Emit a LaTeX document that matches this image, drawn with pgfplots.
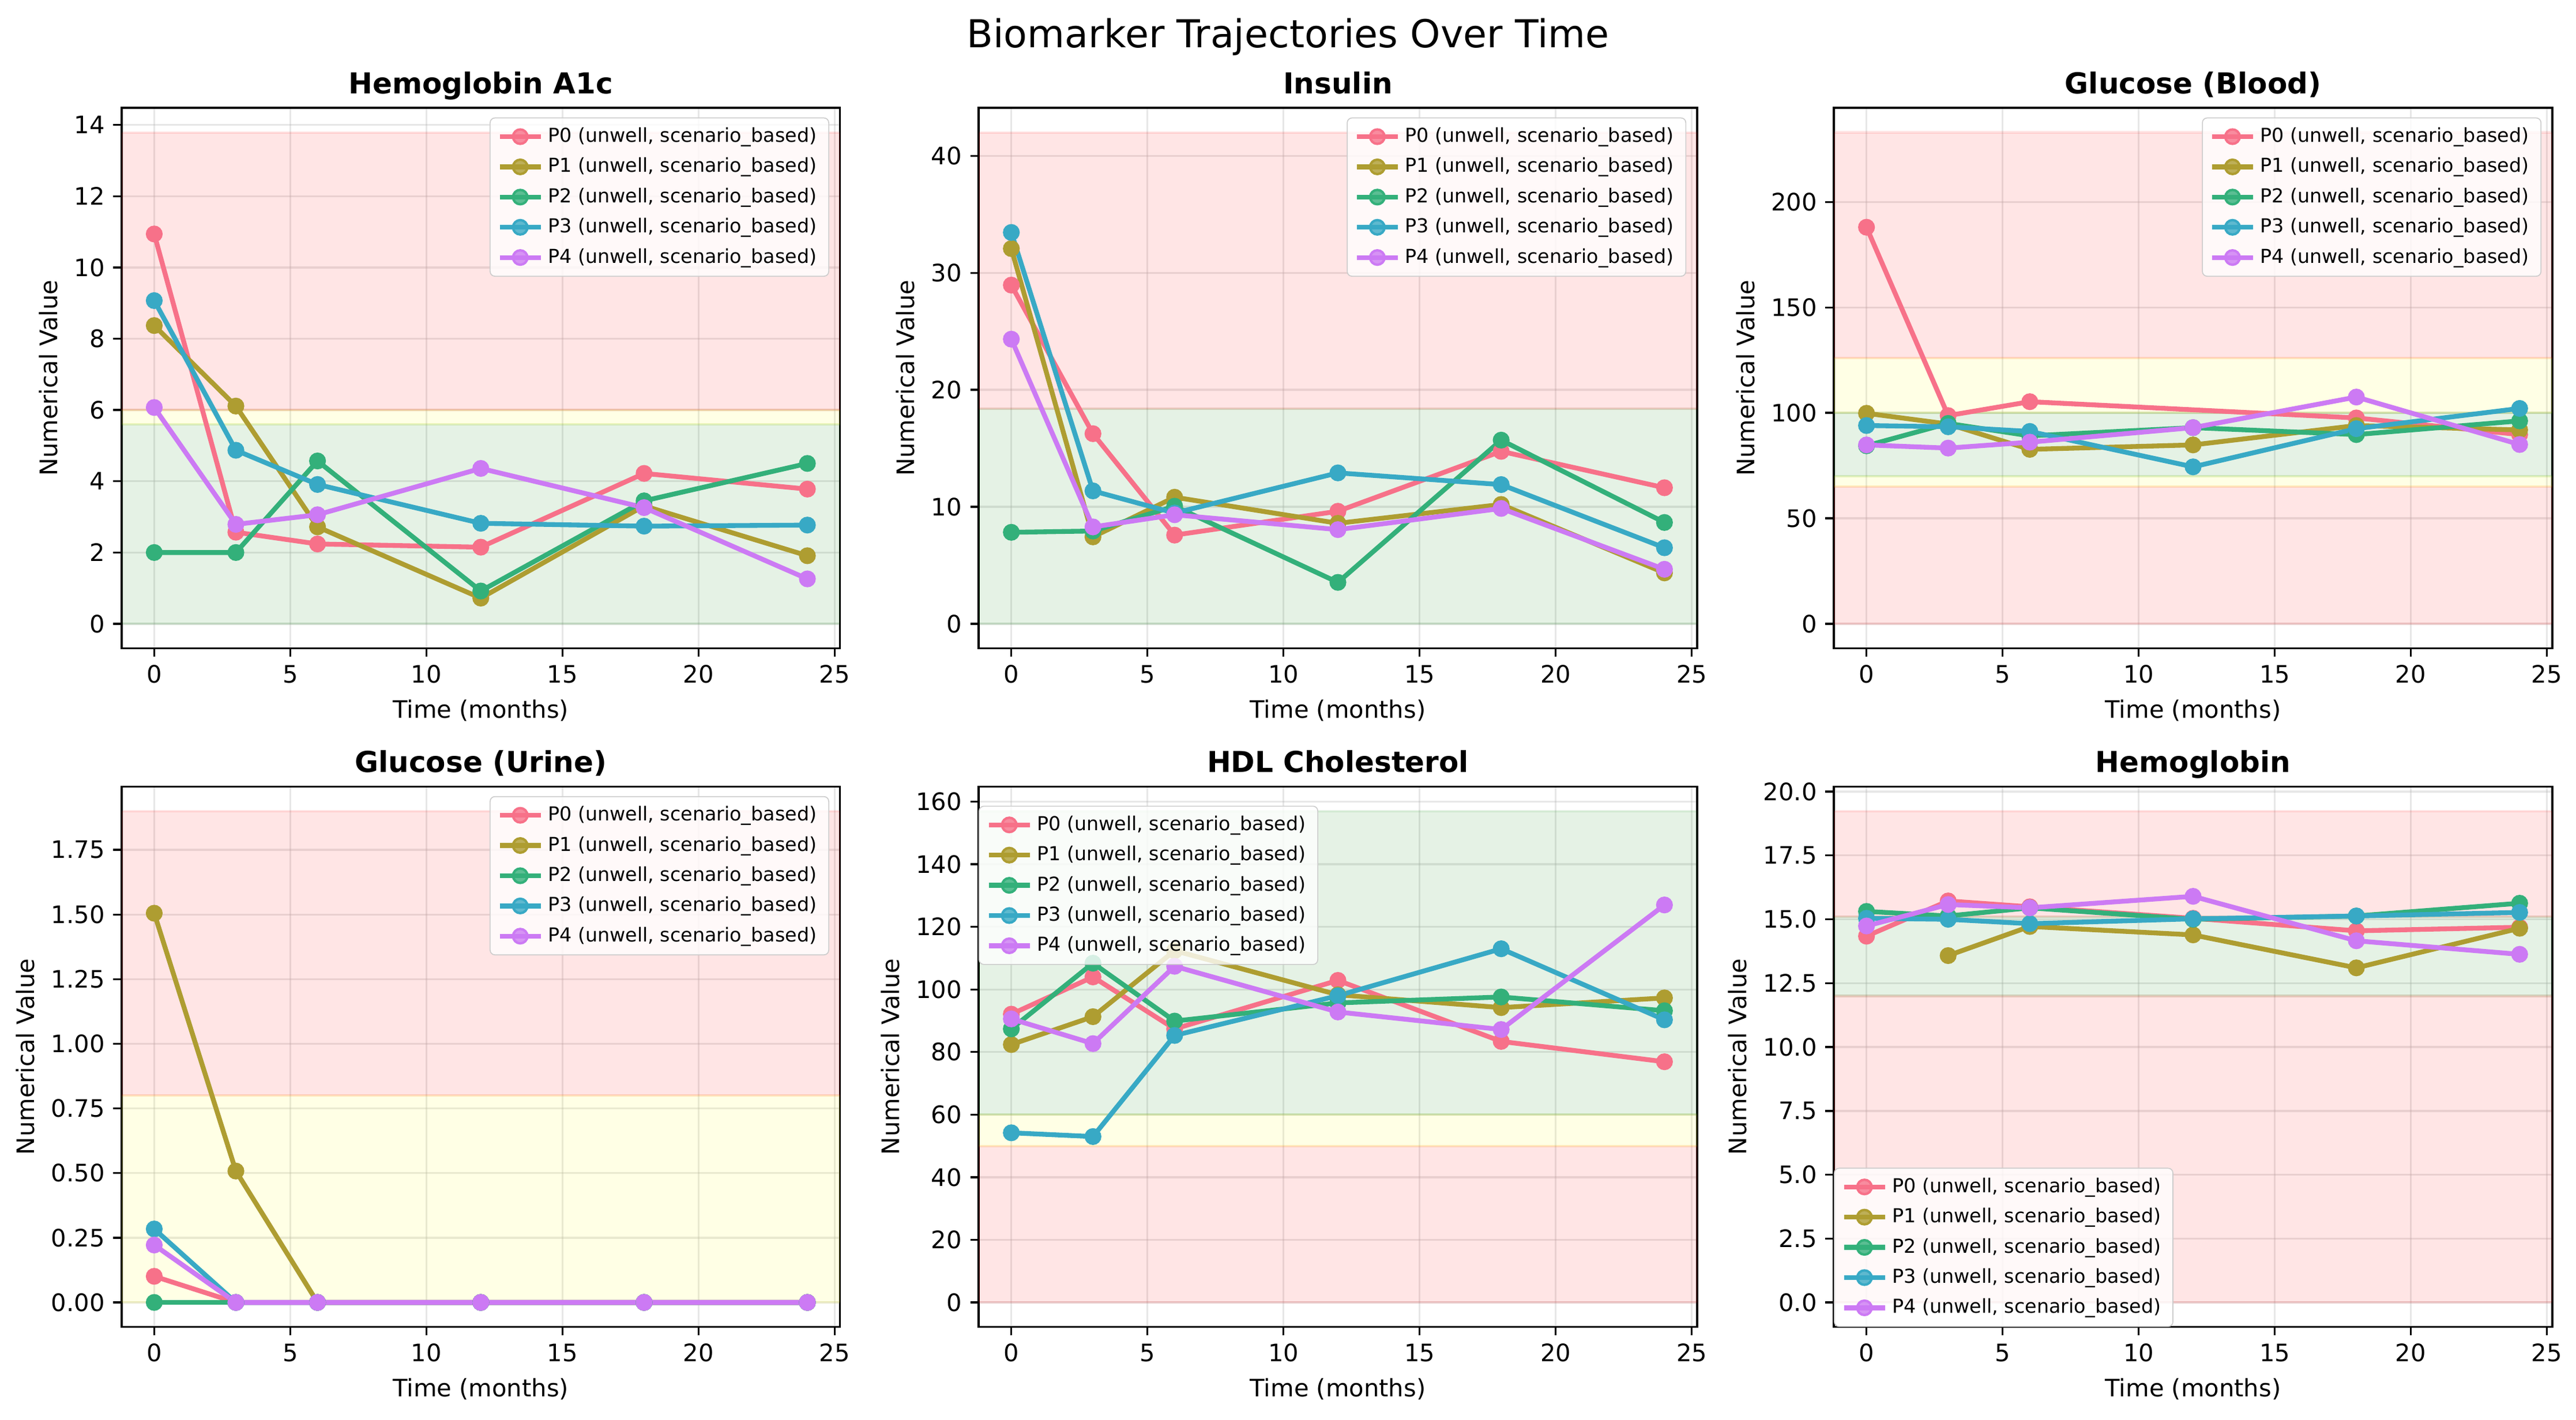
\documentclass[border=0pt]{standalone}
\usepackage{fontspec}
\setmainfont{DejaVu Sans}
\usepackage{pgfplots}
\pgfplotsset{compat=1.18}

\definecolor{cP0}{HTML}{F77189}
\definecolor{cP1}{HTML}{AE9D31}
\definecolor{cP2}{HTML}{33B07A}
\definecolor{cP3}{HTML}{38A9C5}
\definecolor{cP4}{HTML}{CC7AF4}
\definecolor{bred}{HTML}{FF0000}
\definecolor{bgreen}{HTML}{008000}
\definecolor{byellow}{HTML}{FFFF00}

\pgfplotsset{
  bm/.style={
    scale only axis, width=299pt, height=225pt,
    anchor=north west,
    xmin=-1.2, xmax=25.2,
    xtick={0,5,...,25},
    grid=major,
    grid style={draw=black!31, opacity=0.3, line width=0.8pt},
    axis line style={line width=0.8pt},
    tick style={black, line width=0.8pt},
    major tick length=3.5pt,
    tick align=outside, xtick pos=left, ytick pos=left,
    tick label style={font=\fontsize{10}{12}\selectfont},
    label style={font=\fontsize{10}{12}\selectfont},
    title style={font=\bfseries\fontsize{12}{14.4}\selectfont, anchor=base},
    xlabel={Time (months)}, ylabel={Numerical Value},
    /pgf/number format/assume math mode=true,
    scaled y ticks=false,
    legend cell align=left,
    legend style={font=\fontsize{8}{9.6}\selectfont, draw=black!20, fill=white,
      fill opacity=0.8, text opacity=1, rounded corners=2pt,
      at={(1,1)}, anchor=north east, xshift=-4.5pt, yshift=-4pt, row sep=1pt},
  },
  pt/.style={color=#1, line width=2pt, mark=*, mark size=3pt, mark options={line width=1pt}},
  band/.style={fill=#1, draw=#1, opacity=0.1, line width=1pt, forget plot, mark=none},
}

\newcommand{\leg}{\legend{{P0 (unwell, scenario\_based)},{P1 (unwell, scenario\_based)},{P2 (unwell, scenario\_based)},{P3 (unwell, scenario\_based)},{P4 (unwell, scenario\_based)}}}

\begin{document}
\begin{tikzpicture}
\useasboundingbox (0,0) rectangle (1072.08pt,-590.88pt);
\node[font=\fontsize{16}{19}\selectfont, anchor=base] at (536.04pt,-19.7pt) {Biomarker Trajectories Over Time};

% Hemoglobin A1c
\begin{axis}[bm, at={(50.6pt,-44.9pt)}, title={Hemoglobin A1c},
  ymin=-0.69, ymax=14.48, ytick={0,2,...,14}]
\addplot[band=bgreen] coordinates {(-1.2,0) (25.2,0) (25.2,5.6) (-1.2,5.6)} -- cycle;
\addplot[band=byellow] coordinates {(-1.2,5.6) (25.2,5.6) (25.2,6.0) (-1.2,6.0)} -- cycle;
\addplot[band=bred] coordinates {(-1.2,6.0) (25.2,6.0) (25.2,13.79) (-1.2,13.79)} -- cycle;
\addplot[pt=cP0] coordinates {(0,10.94) (3,2.57) (6,2.24) (12,2.15) (18,4.22) (24,3.78)};
\addplot[pt=cP1] coordinates {(0,8.37) (3,6.11) (6,2.72) (12,0.72) (18,3.31) (24,1.91)};
\addplot[pt=cP2] coordinates {(0,2.0) (3,2.0) (6,4.57) (12,0.92) (18,3.45) (24,4.50)};
\addplot[pt=cP3] coordinates {(0,9.07) (3,4.87) (6,3.91) (12,2.82) (18,2.74) (24,2.77)};
\addplot[pt=cP4] coordinates {(0,6.07) (3,2.79) (6,3.06) (12,4.36) (18,3.26) (24,1.26)};
\leg
\end{axis}

% Insulin
\begin{axis}[bm, at={(407.3pt,-44.9pt)}, title={Insulin},
  ymin=-2.1, ymax=44.1, ytick={0,10,...,40}]
\addplot[band=bgreen] coordinates {(-1.2,0) (25.2,0) (25.2,18.4) (-1.2,18.4)} -- cycle;
\addplot[band=bred] coordinates {(-1.2,18.4) (25.2,18.4) (25.2,42) (-1.2,42)} -- cycle;
\addplot[pt=cP0] coordinates {(0,28.95) (3,16.25) (6,7.58) (12,9.62) (18,14.74) (24,11.63)};
\addplot[pt=cP1] coordinates {(0,32.07) (3,7.43) (6,10.82) (12,8.59) (18,10.2) (24,4.35)};
\addplot[pt=cP2] coordinates {(0,7.82) (3,7.93) (6,10.05) (12,3.54) (18,15.7) (24,8.66)};
\addplot[pt=cP3] coordinates {(0,33.45) (3,11.36) (6,9.47) (12,12.9) (18,11.9) (24,6.5)};
\addplot[pt=cP4] coordinates {(0,24.33) (3,8.28) (6,9.32) (12,8.05) (18,9.86) (24,4.66)};
\leg
\end{axis}

% Glucose (Blood)
\begin{axis}[bm, at={(763.2pt,-44.9pt)}, title={Glucose (Blood)},
  ymin=-11.65, ymax=244.6, ytick={0,50,...,200}]
\addplot[band=bred] coordinates {(-1.2,0) (25.2,0) (25.2,65) (-1.2,65)} -- cycle;
\addplot[band=byellow] coordinates {(-1.2,65) (25.2,65) (25.2,70) (-1.2,70)} -- cycle;
\addplot[band=bgreen] coordinates {(-1.2,70) (25.2,70) (25.2,100) (-1.2,100)} -- cycle;
\addplot[band=byellow] coordinates {(-1.2,100) (25.2,100) (25.2,126) (-1.2,126)} -- cycle;
\addplot[band=bred] coordinates {(-1.2,126) (25.2,126) (25.2,233) (-1.2,233)} -- cycle;
\addplot[pt=cP0] coordinates {(0,188) (3,98.7) (6,105.3) (18,97.6) (24,89.7)};
\addplot[pt=cP1] coordinates {(0,99.8) (3,94.7) (6,82.7) (12,84.8) (18,94) (24,91.9)};
\addplot[pt=cP2] coordinates {(0,84.4) (3,95) (6,89.1) (12,93) (18,89.7) (24,96.2)};
\addplot[pt=cP3] coordinates {(0,94) (3,93.4) (6,91.2) (12,74.4) (18,92.5) (24,102.1)};
\addplot[pt=cP4] coordinates {(0,84.8) (3,83.3) (6,86.1) (12,93) (18,107.5) (24,85)};
\leg
\end{axis}

% Glucose (Urine)
\begin{axis}[bm, at={(50.6pt,-327.4pt)}, title={Glucose (Urine)},
  ymin=-0.095, ymax=1.995, ytick={0,0.25,...,1.75},
  yticklabel style={/pgf/number format/.cd, fixed, fixed zerofill, precision=2}]
\addplot[band=byellow] coordinates {(-1.2,0) (25.2,0) (25.2,0.8) (-1.2,0.8)} -- cycle;
\addplot[band=bred] coordinates {(-1.2,0.8) (25.2,0.8) (25.2,1.9) (-1.2,1.9)} -- cycle;
\addplot[pt=cP0] coordinates {(0,0.101) (3,0) (6,0) (12,0) (18,0) (24,0)};
\addplot[pt=cP1] coordinates {(0,1.505) (3,0.508) (6,0) (12,0) (18,0) (24,0)};
\addplot[pt=cP2] coordinates {(0,0) (3,0) (6,0) (12,0) (18,0) (24,0)};
\addplot[pt=cP3] coordinates {(0,0.284) (3,0) (6,0) (12,0) (18,0) (24,0)};
\addplot[pt=cP4] coordinates {(0,0.222) (3,0) (6,0) (12,0) (18,0) (24,0)};
\leg
\end{axis}

% HDL Cholesterol
\begin{axis}[bm, at={(407.3pt,-327.4pt)}, title={HDL Cholesterol},
  ymin=-7.85, ymax=164.85, ytick={0,20,...,160},
  legend style={at={(0,1)}, anchor=north west, xshift=4.5pt, yshift=-4pt}]
\addplot[band=bred] coordinates {(-1.2,0) (25.2,0) (25.2,50) (-1.2,50)} -- cycle;
\addplot[band=byellow] coordinates {(-1.2,50) (25.2,50) (25.2,60) (-1.2,60)} -- cycle;
\addplot[band=bgreen] coordinates {(-1.2,60) (25.2,60) (25.2,157) (-1.2,157)} -- cycle;
\addplot[pt=cP0] coordinates {(0,92.1) (3,104) (6,87.4) (12,102.9) (18,83.4) (24,76.9)};
\addplot[pt=cP1] coordinates {(0,82.4) (3,91.3) (6,112.4) (12,98.3) (18,94.2) (24,97.3)};
\addplot[pt=cP2] coordinates {(0,87.4) (3,108.4) (6,89.9) (12,95.7) (18,97.6) (24,93.2)};
\addplot[pt=cP3] coordinates {(0,54.2) (3,53) (6,85.3) (12,98) (18,113) (24,90.3)};
\addplot[pt=cP4] coordinates {(0,90.6) (3,82.7) (6,107.4) (12,92.8) (18,87.2) (24,127)};
\leg
\end{axis}

% Hemoglobin
\begin{axis}[bm, at={(763.2pt,-327.4pt)}, title={Hemoglobin},
  ymin=-0.96, ymax=20.2, ytick={0,2.5,...,20},
  yticklabel style={/pgf/number format/.cd, fixed, fixed zerofill, precision=1},
  legend style={at={(0,0)}, anchor=south west, xshift=4.5pt, yshift=4pt}]
\addplot[band=bred] coordinates {(-1.2,0) (25.2,0) (25.2,12) (-1.2,12)} -- cycle;
\addplot[band=bgreen] coordinates {(-1.2,12) (25.2,12) (25.2,15.1) (-1.2,15.1)} -- cycle;
\addplot[band=bred] coordinates {(-1.2,15.1) (25.2,15.1) (25.2,19.24) (-1.2,19.24)} -- cycle;
\addplot[pt=cP0] coordinates {(0,14.34) (3,15.72) (6,15.49) (12,15.04) (18,14.55) (24,14.69)};
\addplot[pt=cP1] coordinates {(3,13.58) (6,14.72) (12,14.39) (18,13.1) (24,14.65)};
\addplot[pt=cP2] coordinates {(0,15.31) (3,15.13) (6,15.45) (12,15.0) (18,15.13) (24,15.63)};
\addplot[pt=cP3] coordinates {(0,15.04) (3,15.0) (6,14.83) (12,15.02) (18,15.13) (24,15.27)};
\addplot[pt=cP4] coordinates {(0,14.74) (3,15.58) (6,15.45) (12,15.9) (18,14.16) (24,13.63)};
\leg
\end{axis}
\end{tikzpicture}
\end{document}
